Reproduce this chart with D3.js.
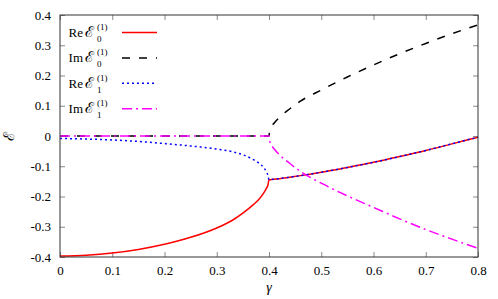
<!DOCTYPE html>
<html>
<head>
<meta charset="utf-8">
<script src="https://cdn.jsdelivr.net/npm/d3@7"></script>
<style>
  html, body { margin: 0; padding: 0; background: #fff; }
  svg { display: block; }
  text { font-family: "Liberation Serif", "DejaVu Serif", serif; fill: #000; }
</style>
</head>
<body>
<svg id="chart" width="498" height="299"></svg>
<script>
// values
const gamma = [0, 0.05, 0.1, 0.15, 0.2, 0.25, 0.3, 0.33, 0.35, 0.37, 0.38, 0.39, 0.395, 0.398, 0.4,
  0.401, 0.405, 0.41, 0.42, 0.44, 0.46, 0.5, 0.55, 0.6, 0.65, 0.7, 0.75, 0.8];

const reE0 = [-0.397, -0.394, -0.387, -0.375, -0.358, -0.335, -0.304, -0.2785, -0.255, -0.227, -0.2105, -0.188, -0.173, -0.162, -0.145,
  -0.145, -0.144, -0.143, -0.141, -0.136, -0.131, -0.120, -0.104, -0.087, -0.068, -0.048, -0.026, -0.004];
const imE0 = [0, 0, 0, 0, 0, 0, 0, 0, 0, 0, 0, 0, 0, 0, 0,
  0.014, 0.031, 0.043, 0.062, 0.090, 0.115, 0.152, 0.195, 0.235, 0.272, 0.306, 0.338, 0.367];
const reE1 = [-0.008, -0.010, -0.013, -0.018, -0.025, -0.033, -0.043, -0.052, -0.062, -0.078, -0.089, -0.105, -0.118, -0.130, -0.145,
  -0.145, -0.144, -0.143, -0.141, -0.136, -0.131, -0.120, -0.104, -0.087, -0.068, -0.048, -0.026, -0.004];
const imE1 = [0, 0, 0, 0, 0, 0, 0, 0, 0, 0, 0, 0, 0, 0, 0,
  -0.014, -0.031, -0.043, -0.062, -0.091, -0.117, -0.156, -0.198, -0.236, -0.274, -0.309, -0.341, -0.371];

const xTicks = [0, 0.1, 0.2, 0.3, 0.4, 0.5, 0.6, 0.7, 0.8];
const yTicks = [-0.4, -0.3, -0.2, -0.1, 0, 0.1, 0.2, 0.3, 0.4];

const series = [
  { pre: "Re", sub: "0", values: reE0, color: "#ff0000", dash: null },
  { pre: "Im", sub: "0", values: imE0, color: "#000000", dash: "8,9" },
  { pre: "Re", sub: "1", values: reE1, color: "#0000ff", dash: "2,3" },
  { pre: "Im", sub: "1", values: imE1, color: "#ff00ff", dash: "10,4,2,4" },
];

const width = 498, height = 299;
const margin = { top: 15, right: 20, bottom: 42, left: 60 };

const svg = d3.select("#chart");

const x = d3.scaleLinear().domain([0, 0.8]).range([margin.left, width - margin.right]);
const y = d3.scaleLinear().domain([-0.4, 0.4]).range([height - margin.bottom, margin.top]);

const fmt = d => (d === 0 ? "0" : String(+d.toFixed(1)));

// axes with inward ticks
const tickLen = 5;
svg.append("g")
  .attr("transform", `translate(0,${y(-0.4)})`)
  .call(d3.axisBottom(x).tickValues(xTicks).tickSize(-tickLen).tickPadding(9).tickFormat(fmt))
  .call(g => g.select(".domain").remove());
svg.append("g")
  .attr("transform", `translate(0,${y(0.4)})`)
  .call(d3.axisTop(x).tickValues(xTicks).tickSize(-tickLen).tickFormat(""))
  .call(g => g.select(".domain").remove());
svg.append("g")
  .attr("transform", `translate(${x(0)},0)`)
  .call(d3.axisLeft(y).tickValues(yTicks).tickSize(-tickLen).tickPadding(9).tickFormat(fmt))
  .call(g => g.select(".domain").remove());
svg.append("g")
  .attr("transform", `translate(${x(0.8)},0)`)
  .call(d3.axisRight(y).tickValues(yTicks).tickSize(-tickLen).tickFormat(""))
  .call(g => g.select(".domain").remove());

svg.selectAll(".tick line").attr("stroke", "#888").attr("stroke-width", 1);
svg.selectAll(".tick text")
  .attr("font-family", "Liberation Serif")
  .style("font-family", '"Liberation Serif", serif')
  .style("font-size", "13px")
  .attr("fill", "#000");

// curves
const line = d3.line()
  .x((d, i) => x(gamma[i]))
  .y(d => y(d))
  .curve(d3.curveMonotoneX);

const plot = svg.append("g");
series.forEach(s => {
  plot.append("path")
    .datum(s.values)
    .attr("fill", "none")
    .attr("stroke", s.color)
    .attr("stroke-width", 1.5)
    .attr("stroke-dasharray", s.dash)
    .attr("d", line);
});

// frame
svg.append("rect")
  .attr("x", x(0))
  .attr("y", y(0.4))
  .attr("width", x(0.8) - x(0))
  .attr("height", y(-0.4) - y(0.4))
  .attr("fill", "none")
  .attr("stroke", "#333")
  .attr("stroke-width", 1);

// legend
const legend = svg.append("g");
series.forEach((s, i) => {
  const base = 37 + i * 25.4;
  legend.append("text")
    .attr("x", 83)
    .attr("y", base)
    .attr("text-anchor", "end")
    .style("font-size", "13px")
    .text(s.pre);
  legend.append("text")
    .attr("x", 85)
    .attr("y", base)
    .style("font-size", "15px")
    .text("\u2130");
  legend.append("text")
    .attr("x", 97)
    .attr("y", base + 5)
    .style("font-size", "9px")
    .text(s.sub);
  legend.append("text")
    .attr("x", 97)
    .attr("y", base - 7)
    .style("font-size", "9px")
    .text("(1)");
  legend.append("line")
    .attr("x1", 122).attr("x2", 157)
    .attr("y1", base - 4.5).attr("y2", base - 4.5)
    .attr("stroke", s.color)
    .attr("stroke-width", 1.5)
    .attr("stroke-dasharray", s.dash);
});

// axis titles
svg.append("text")
  .attr("transform", `translate(14,${y(0)}) rotate(-90)`)
  .attr("text-anchor", "middle")
  .style("font-size", "15px")
  .text("\u2130");
svg.append("text")
  .attr("x", (x(0) + x(0.8)) / 2)
  .attr("y", 292)
  .attr("text-anchor", "middle")
  .style("font-size", "14px")
  .style("font-style", "italic")
  .text("\u03b3");
</script>
</body>
</html>
